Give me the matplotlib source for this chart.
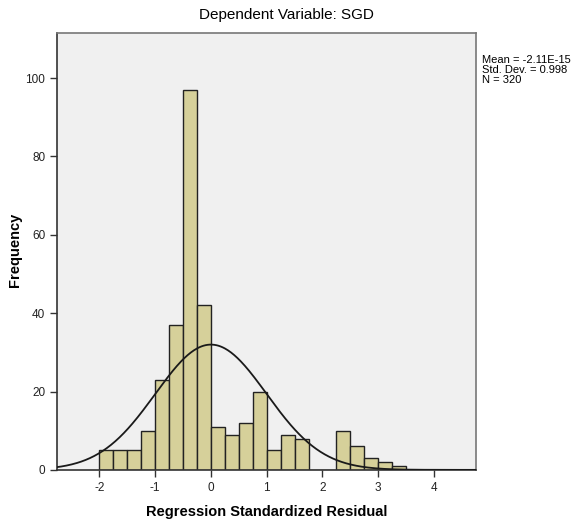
import matplotlib
matplotlib.use("Agg")
import matplotlib.pyplot as plt
import numpy as np

plt.rcParams["font.family"] = ["Liberation Sans", "DejaVu Sans"]
plt.rcParams["axes.unicode_minus"] = False

# Histogram of standardized residuals (bin width 0.25, from -2.0 to 3.5)
bin_edges = [-2.0, -1.75, -1.5, -1.25, -1.0, -0.75, -0.5, -0.25, 0.0, 0.25, 0.5,
             0.75, 1.0, 1.25, 1.5, 1.75, 2.0, 2.25, 2.5, 2.75, 3.0, 3.25, 3.5]
counts = [5, 5, 5, 10, 23, 37, 97, 42, 11, 9, 12, 20, 5, 9, 8, 0, 0, 10, 6, 3, 2, 1]
mean_val = -2.11e-15
std_val = 0.998
n_obs = 320

x_ticks = [-2, -1, 0, 1, 2, 3, 4]
y_ticks = [0, 20, 40, 60, 80, 100]

fig = plt.figure(figsize=(5.73, 5.25), dpi=100)
ax = fig.add_axes([0.0995, 0.105, 0.731, 0.832])
ax.set_facecolor("#f0f0f0")

lefts = bin_edges[:-1]
widths = np.diff(bin_edges)
ax.bar(lefts, counts, width=widths, align="edge", color="#d6d09a",
       edgecolor="#222222", linewidth=1.0, zorder=2)

# Normal curve scaled to the histogram
xs = np.linspace(-2.8, 4.8, 400)
bw = widths[0]
ys = n_obs * bw * np.exp(-0.5 * ((xs - mean_val) / std_val) ** 2) / (std_val * np.sqrt(2 * np.pi))
ax.plot(xs, ys, color="#1a1a1a", linewidth=1.3, zorder=3)

ax.set_xlim(-2.76, 4.75)
ax.set_ylim(0, 111.5)
ax.set_xticks(x_ticks)
ax.set_yticks(y_ticks)
ax.tick_params(axis="both", direction="out", length=5, width=1, color="#333333",
               labelsize=8.5, labelcolor="#222222")

for side in ["top", "right"]:
    ax.spines[side].set_color("#777777")
    ax.spines[side].set_linewidth(1.2)
for side in ["left", "bottom"]:
    ax.spines[side].set_color("#333333")
    ax.spines[side].set_linewidth(1.2)

fig.text(0.465, 0.025, "Regression Standardized Residual", ha="center", va="center",
         fontsize=10.5, fontweight="bold")
fig.text(0.027, 0.524, "Frequency", ha="center", va="center", rotation=90,
         fontsize=10.5, fontweight="bold")

fig.text(0.5, 0.971, "Dependent Variable: SGD", ha="center", va="center", fontsize=11)

fig.text(0.842, 0.895, "Mean = -2.11E-15\nStd. Dev. = 0.998\nN = 320",
         ha="left", va="top", fontsize=8, linespacing=1.0)

fig.savefig("out.png", dpi=100, facecolor="white")
